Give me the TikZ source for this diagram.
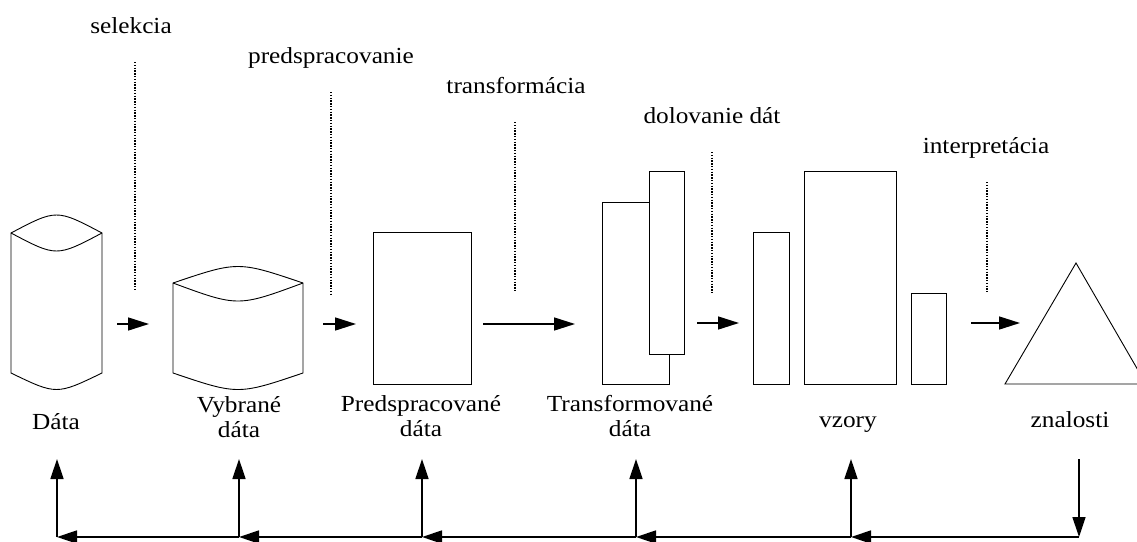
\documentclass[tikz,border=0pt]{standalone}
\usepackage{fontspec}
\setmainfont[FakeStretch=1.1]{Liberation Serif}
\usetikzlibrary{arrows.meta}
\begin{document}
\begin{tikzpicture}[x=1pt,y=-1pt,
  outline/.style={draw=black,line width=0.9pt,fill=white,line join=miter},
  flow/.style={line width=1.5pt,-{Triangle[length=21pt,width=13pt]}},
  back/.style={line width=1.5pt,-{Triangle[length=20pt,width=13pt]}},
  guide/.style={line width=1.4pt,dash pattern=on 1.4pt off 1.4pt},
  lbl/.style={font=\fontsize{23}{25}\selectfont,align=center,inner sep=0pt,anchor=base}]
\useasboundingbox (0,0) rectangle (1137,541);

% --- data stores ---
% raw data (tall cylinder)
\draw[outline] (11,233) .. controls (56.5,209) .. (102,233) -- (102,373)
  .. controls (56.5,395) .. (11,373) -- cycle;
\draw[line width=0.9pt] (11,233) .. controls (56.5,257) .. (102,233);
% selected data (wide cylinder)
\draw[outline] (173,283) .. controls (238,261) .. (303,283) -- (303,373)
  .. controls (238,395) .. (173,373) -- cycle;
\draw[line width=0.9pt] (173,283) .. controls (238,307) .. (303,283);
% preprocessed data
\draw[outline] (373,232) rectangle (471,384);
% transformed data
\draw[outline] (602,202) rectangle (669,384);
\draw[outline] (649,171) rectangle (684,354);
% patterns
\draw[outline] (753,232) rectangle (789,384);
\draw[outline] (804,171) rectangle (896,384);
\draw[outline] (911,293) rectangle (946,384);
% knowledge
\draw[outline] (1076,263) -- (1146,384) -- (1005,384) -- cycle;

% --- step names with dotted guides ---
\node[lbl] (tSel) at (131,33) {selekcia};
\node[lbl] (tPre) at (331,63) {predspracovanie};
\node[lbl] (tTra) at (516,93) {transformácia};
\node[lbl] (tDol) at (712,123) {dolovanie dát};
\node[lbl] (tInt) at (986,153) {interpretácia};
\coordinate (g1a) at (135,62);  \coordinate (g1b) at (135,291);
\coordinate (g2a) at (331,92);  \coordinate (g2b) at (331,294);
\coordinate (g3a) at (515,122); \coordinate (g3b) at (515,292);
\coordinate (g4a) at (712,152); \coordinate (g4b) at (712,293);
\coordinate (g5a) at (987,182); \coordinate (g5b) at (987,292);
\foreach \g in {1,...,5} \draw[guide] (g\g a) -- (g\g b);

% --- forward arrows ---
\coordinate (f1a) at (117,324); \coordinate (f1b) at (149,324);
\coordinate (f2a) at (323,324); \coordinate (f2b) at (356,324);
\coordinate (f3a) at (483,324); \coordinate (f3b) at (575,324);
\coordinate (f4a) at (697,323); \coordinate (f4b) at (739,323);
\coordinate (f5a) at (971,323); \coordinate (f5b) at (1020,323);
\foreach \f in {1,...,5} \draw[flow] (f\f a) -- (f\f b);

% --- stage labels (base = last line) ---
\node[lbl] (lData) at (56,429) {Dáta};
\node[lbl] (lSel) at (239,437) {Vybrané\\dáta};
\node[lbl] (lPre) at (421,436) {Predspracované\\dáta};
\node[lbl] (lTra) at (630,436) {Transformované\\dáta};
\node[lbl] (lVz) at (848,427) {vzory};
\node[lbl] (lZn) at (1070,427) {znalosti};

% --- feedback loop ---
\coordinate (k0) at (1079,459);
\coordinate (b5) at (1079,537);
\coordinate (b4) at (851,537); \coordinate (u4) at (851,459);
\coordinate (b3) at (636,537); \coordinate (u3) at (636,459);
\coordinate (b2) at (422,537); \coordinate (u2) at (422,459);
\coordinate (b1) at (239,537); \coordinate (u1) at (239,459);
\coordinate (b0) at (57,537);  \coordinate (u0) at (57,459);
\draw[back] (k0) -- (b5);
\draw[back] (b5) -- (b4);
\draw[back] (b4) -- (b3);
\draw[back] (b3) -- (b2);
\draw[back] (b2) -- (b1);
\draw[back] (b1) -- (b0);
\foreach \i in {0,...,4} \draw[back] (b\i) -- (u\i);
\end{tikzpicture}
\end{document}
